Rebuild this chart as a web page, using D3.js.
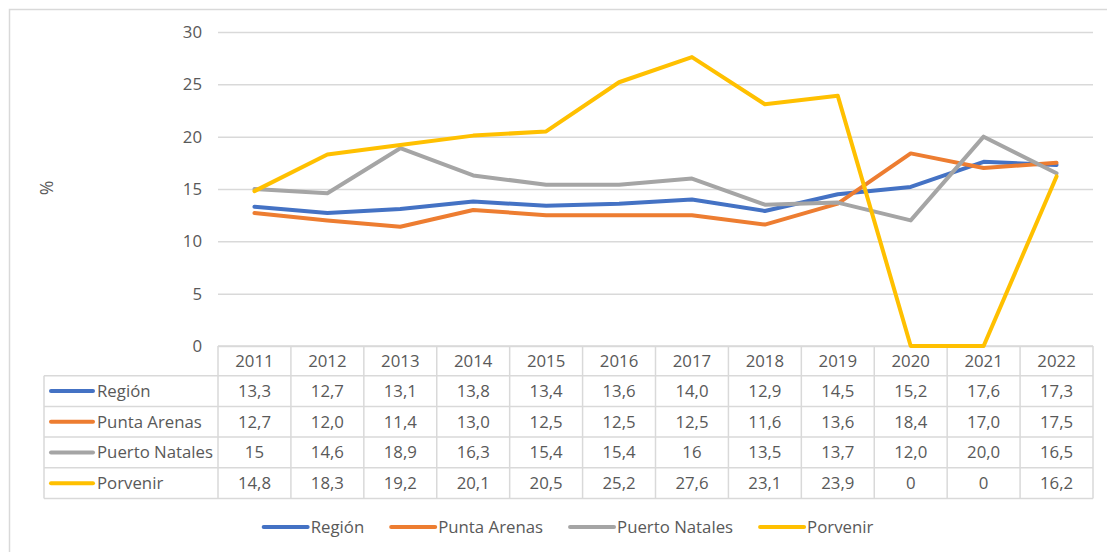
<!DOCTYPE html>
<html>
<head>
<meta charset="utf-8">
<script src="https://cdn.jsdelivr.net/npm/d3@7"></script>
<style>
  html, body { margin: 0; padding: 0; background: #fff; }
  svg { display: block; }
  text { font-family: "Open Sans", "Liberation Sans", sans-serif; fill: #595959; }
</style>
</head>
<body>
<svg id="chart" width="1107" height="552"></svg>
<script>
// ---- data ----
const years = ["2011","2012","2013","2014","2015","2016","2017","2018","2019","2020","2021","2022"];
const seriesNames = ["Región", "Punta Arenas", "Puerto Natales", "Porvenir"];
const region        = ["13,3","12,7","13,1","13,8","13,4","13,6","14,0","12,9","14,5","15,2","17,6","17,3"];
const puntaArenas   = ["12,7","12,0","11,4","13,0","12,5","12,5","12,5","11,6","13,6","18,4","17,0","17,5"];
const puertoNatales = ["15","14,6","18,9","16,3","15,4","15,4","16","13,5","13,7","12,0","20,0","16,5"];
const porvenir      = ["14,8","18,3","19,2","20,1","20,5","25,2","27,6","23,1","23,9","0","0","16,2"];
const yTicks = [0, 5, 10, 15, 20, 25, 30];
const yLabel = "%";
const colors = ["#4472C4", "#ED7D31", "#A5A5A5", "#FFC000"];

const seriesText = [region, puntaArenas, puertoNatales, porvenir];
const toNum = s => +s.replace(",", ".");
const series = seriesNames.map((name, i) => ({
  name, color: colors[i], text: seriesText[i], values: seriesText[i].map(toNum)
}));

// ---- layout ----
const svg = d3.select("#chart");
const gridColor = "#d9d9d9";
const plotLeft = 218, plotRight = 1093, plotTop = 32, plotBottom = 346;
const tableLeft = 44;
const headerH = 29.7, rowH = 30.7;
const fontSize = 16.8;

// outer border
svg.append("rect").attr("x", 9.5).attr("y", 9.5).attr("width", 1120).attr("height", 560)
  .attr("fill", "none").attr("stroke", gridColor).attr("stroke-width", 1.5);

const x = d3.scaleBand().domain(years).range([plotLeft, plotRight]).paddingInner(0).paddingOuter(0);
const y = d3.scaleLinear().domain([0, 30]).range([plotBottom, plotTop]);

// gridlines + y axis
const yAxis = d3.axisLeft(y).tickValues(yTicks).tickSize(-(plotRight - plotLeft)).tickPadding(16).tickFormat(d3.format("d"));
const gy = svg.append("g").attr("transform", `translate(${plotLeft},0)`).call(yAxis);
gy.select(".domain").remove();
gy.selectAll(".tick line").attr("stroke", gridColor).attr("stroke-width", 1.5);
gy.selectAll(".tick text").attr("font-size", fontSize).attr("fill", "#595959")
  .style("font-family", '"Open Sans", sans-serif');

// y label
svg.append("text").attr("transform", `translate(53,188) rotate(-90)`)
  .attr("text-anchor", "middle").attr("font-size", fontSize + 1).text(yLabel);

// ---- table ----
const tableTop = plotBottom;
const rowsTop = tableTop + headerH;
const tableBottom = rowsTop + rowH * series.length;
const tg = svg.append("g");
const hLines = [tableTop, rowsTop];
series.forEach((s, i) => hLines.push(rowsTop + rowH * (i + 1)));
hLines.forEach((yy, i) => {
  tg.append("line").attr("x1", i === 0 ? plotLeft : tableLeft).attr("x2", plotRight)
    .attr("y1", yy).attr("y2", yy).attr("stroke", gridColor).attr("stroke-width", 1.5);
});
tg.append("line").attr("x1", tableLeft).attr("x2", tableLeft).attr("y1", rowsTop).attr("y2", tableBottom)
  .attr("stroke", gridColor).attr("stroke-width", 1.5);
years.forEach(yr => {
  tg.append("line").attr("x1", x(yr)).attr("x2", x(yr)).attr("y1", tableTop).attr("y2", tableBottom)
    .attr("stroke", gridColor).attr("stroke-width", 1.5);
});
tg.append("line").attr("x1", plotRight).attr("x2", plotRight).attr("y1", tableTop).attr("y2", tableBottom)
  .attr("stroke", gridColor).attr("stroke-width", 1.5);
years.forEach(yr => {
  tg.append("text").attr("x", x(yr) + x.bandwidth() / 2).attr("y", tableTop + headerH / 2)
    .attr("dy", "0.35em").attr("text-anchor", "middle").attr("font-size", fontSize).text(yr);
});
series.forEach((s, i) => {
  const cy = rowsTop + rowH * i + rowH / 2;
  tg.append("line").attr("x1", 51).attr("x2", 93).attr("y1", cy).attr("y2", cy)
    .attr("stroke", s.color).attr("stroke-width", 4).attr("stroke-linecap", "round");
  tg.append("text").attr("x", 97).attr("y", cy).attr("dy", "0.35em").attr("font-size", fontSize).text(s.name);
  years.forEach((yr, j) => {
    tg.append("text").attr("x", x(yr) + x.bandwidth() / 2).attr("y", cy).attr("dy", "0.35em")
      .attr("text-anchor", "middle").attr("font-size", fontSize).text(s.text[j]);
  });
});

// ---- lines ----
const line = d3.line().x((d, j) => x(years[j]) + x.bandwidth() / 2).y(d => y(d));
series.forEach(s => {
  svg.append("path").datum(s.values).attr("d", line).attr("fill", "none")
    .attr("stroke", s.color).attr("stroke-width", 4).attr("stroke-linejoin", "round").attr("stroke-linecap", "round");
});

// ---- bottom legend ----
const legY = 527;
const lg = svg.append("g");
const keyLen = 44, keyGap = 3, itemGap = 27;
let cursor = 0;
const items = [];
series.forEach(s => {
  const g = lg.append("g");
  g.append("line").attr("x1", 0).attr("x2", keyLen).attr("y1", 0).attr("y2", 0)
    .attr("stroke", s.color).attr("stroke-width", 4).attr("stroke-linecap", "round");
  const t = g.append("text").attr("x", keyLen + keyGap).attr("y", 0).attr("dy", "0.35em")
    .attr("font-size", fontSize).text(s.name);
  const w = keyLen + keyGap + t.node().getComputedTextLength();
  items.push({ g, start: cursor });
  cursor += w + itemGap;
});
const totalW = cursor - itemGap;
const legStart = (tableLeft + plotRight) / 2 - totalW / 2;
items.forEach(it => it.g.attr("transform", `translate(${legStart + it.start},${legY})`));
</script>
</body>
</html>
